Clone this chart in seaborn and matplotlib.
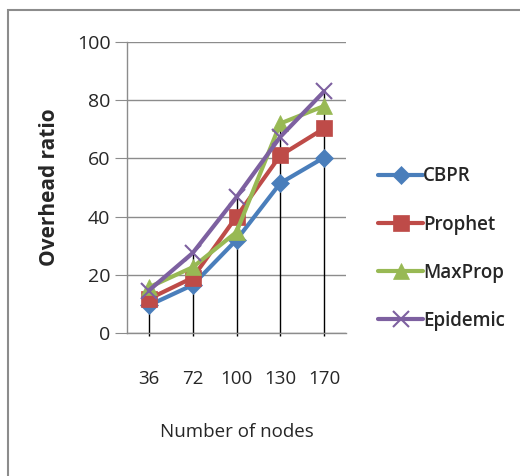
import matplotlib
matplotlib.use("Agg")
import matplotlib.pyplot as plt
import seaborn as sns
import pandas as pd
from matplotlib.patches import Rectangle

nodes = ["36", "72", "100", "130", "170"]
cbpr = [9.5, 16.5, 32, 51.5, 60.3]
prophet = [11.7, 19, 40, 61, 70.3]
maxprop = [15.7, 22.6, 34.7, 72, 78]
epidemic = [14.6, 27.5, 46.7, 67.4, 83]
series_names = ["CBPR", "Prophet", "MaxProp", "Epidemic"]
colors = ["#4A7EBB", "#BE4B48", "#98B954", "#7D60A0"]
markers = ["D", "s", "^", "x"]
msizes = [9, 12, 12, 12]

sns.set_style("white")
plt.rcParams["font.family"] = ["Open Sans", "DejaVu Sans"]

rows = []
for name, vals in zip(series_names, [cbpr, prophet, maxprop, epidemic]):
    for n, v in zip(nodes, vals):
        rows.append({"nodes": n, "value": v, "series": name})
df = pd.DataFrame(rows)

fig = plt.figure(figsize=(5.2, 4.76), dpi=100)
fig.patches.append(Rectangle((8 / 520, -0.1), 1.2, 1 - 10 / 476 + 0.1, transform=fig.transFigure,
                             fill=False, edgecolor="#8c8c8c", linewidth=1.5))
ax = fig.add_axes([127 / 520, 1 - 333 / 476, 219 / 520, 291 / 476])

# drop lines (high to zero)
highs = df.groupby("nodes", sort=False)["value"].max().reindex(nodes)
ax.vlines(range(len(nodes)), -1, highs.values, color="black", linewidth=1, zorder=1,
          clip_on=False)

for name, c, m, s in zip(series_names, colors, markers, msizes):
    sub = df[df.series == name]
    sns.lineplot(data=sub, x="nodes", y="value", ax=ax, color=c, marker=m,
                 markersize=s, linewidth=3, label=name, zorder=3,
                 markeredgecolor=c, markeredgewidth=1.5 if m == "x" else 0.5, sort=False)

ax.set_ylim(0, 100)
ax.set_xlim(-0.5, 4.5)
ax.set_yticks([0, 20, 40, 60, 80, 100])
ax.yaxis.grid(True, color="#8c8c8c", linewidth=1)
ax.set_axisbelow(True)
for sp in ["top", "right"]:
    ax.spines[sp].set_visible(False)
for sp in ["left", "bottom"]:
    ax.spines[sp].set_color("#8c8c8c")
    ax.spines[sp].set_linewidth(1)
ax.tick_params(axis="y", length=9, color="#8c8c8c", labelsize=14, pad=3, left=True)
ax.tick_params(axis="x", length=0, labelsize=13.5, pad=27)
ax.set_xlabel("Number of nodes", fontsize=13.5, labelpad=25)
ax.set_ylabel("Overhead ratio", fontsize=15, fontweight="bold", labelpad=12)

leg = ax.legend(loc="center left", bbox_to_anchor=(1.07, 0.29), frameon=False,
                prop={"size": 13.5, "weight": "semibold"}, handlelength=2.4,
                labelspacing=1.5, handletextpad=0.0)

fig.savefig("out.png", dpi=100)
